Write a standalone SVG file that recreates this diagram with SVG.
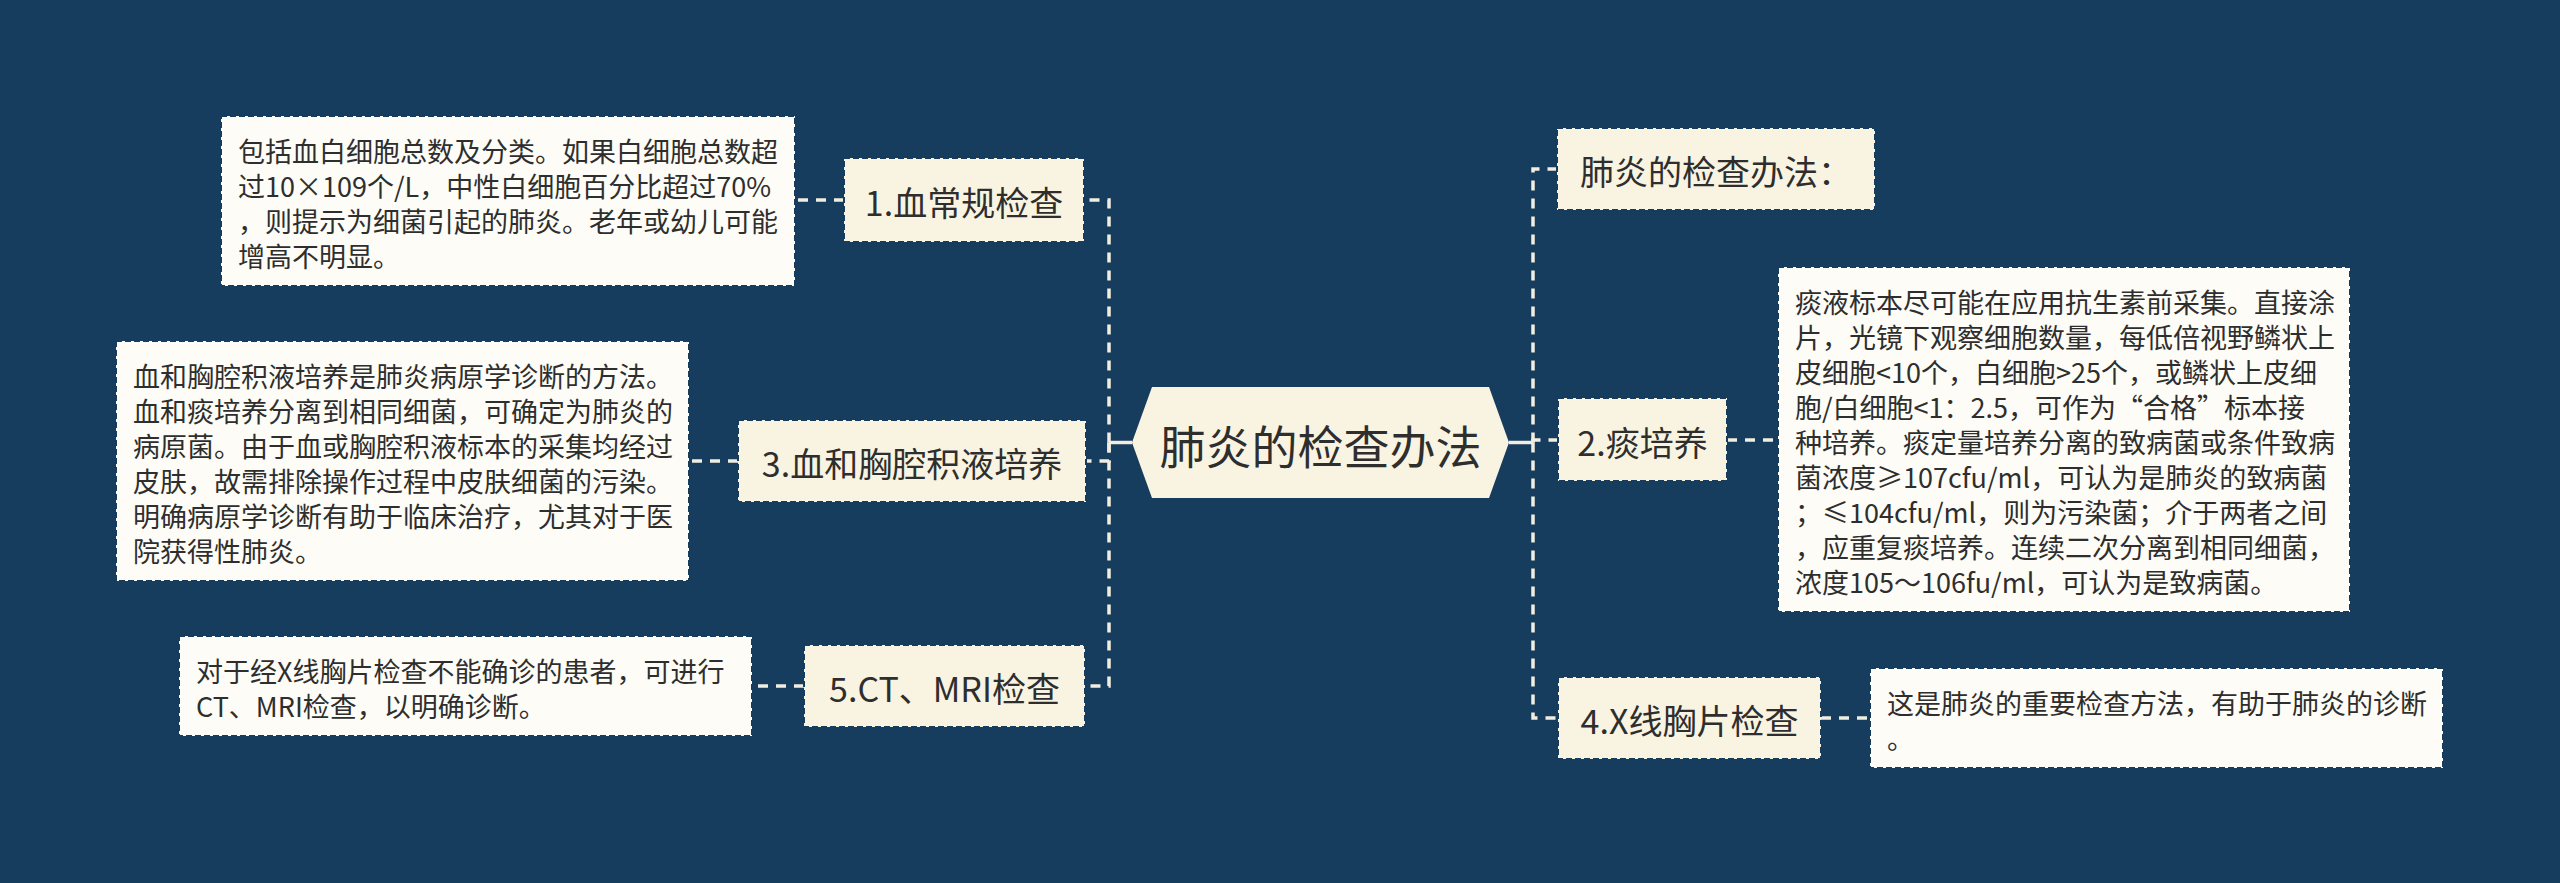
<svg xmlns="http://www.w3.org/2000/svg" width="2560" height="883" viewBox="0 0 2560 883">
<style>
.bg{fill:#173d5e}
.node{fill:#f9f4e1;stroke:#173d5e;stroke-width:2;stroke-dasharray:6 3}
.detail{fill:#fdfcf6;stroke:#173d5e;stroke-width:2;stroke-dasharray:6 3}
.center{fill:#f9f4e1}
.ntext{font-family:"Noto Sans CJK SC","Noto Sans",sans-serif;font-size:34px;fill:#2e2e2e;text-anchor:middle;dominant-baseline:central}
.dtext{font-family:"Noto Sans CJK SC","Noto Sans",sans-serif;font-size:27px;fill:#2e2e2e;dominant-baseline:central}
.ctext{font-family:"Noto Sans CJK SC","Noto Sans",sans-serif;font-size:46px;fill:#2e2e2e;text-anchor:middle;dominant-baseline:central}
.dash{fill:none;stroke:#f1ede0;stroke-width:3.5;stroke-dasharray:10 8}
.solid{fill:none;stroke:#f1ede0;stroke-width:3.5}
</style>
<rect class="bg" x="0" y="0" width="2560" height="883"/>
<g id="connectors">
<path class="solid" d="M1132 442.5 H1109"/>
<path class="dash" d="M1109 442.5 V200 H1084"/>
<path class="dash" d="M1109 442.5 V461 H1086"/>
<path class="dash" d="M1109 442.5 V686 H1085"/>
<path class="solid" d="M1509 442.5 H1533"/>
<path class="dash" d="M1533 442.5 V169 H1557"/>
<path class="dash" d="M1533 442.5 V440 H1558"/>
<path class="dash" d="M1533 442.5 V718 H1558"/>
<path class="dash" d="M844 200 H795"/>
<path class="dash" d="M738 461 H689"/>
<path class="dash" d="M804 686 H752"/>
<path class="dash" d="M1727 440 H1778"/>
<path class="dash" d="M1821 718 H1870"/>
</g>
<g id="root">
<polygon class="center" points="1132,442.5 1152,387 1489,387 1509,442.5 1489,498 1152,498"/>
<text class="ctext" x="1320.5" y="444">肺炎的检查办法</text>
</g>
<g id="n1">
<rect class="node" x="844" y="158" width="240" height="84"/>
<text class="ntext" x="964" y="201">1.血常规检查</text>
</g>
<g id="d1">
<rect class="detail" x="221" y="116" width="574" height="170"/>
<text class="dtext" x="238" y="150.5">包括血白细胞总数及分类。如果白细胞总数超</text>
<text class="dtext" x="238" y="185.5">过10×109个/L，中性白细胞百分比超过70%</text>
<text class="dtext" x="238" y="220.5">，则提示为细菌引起的肺炎。老年或幼儿可能</text>
<text class="dtext" x="238" y="255.5">增高不明显。</text>
</g>
<g id="n3">
<rect class="node" x="738" y="420" width="348" height="82"/>
<text class="ntext" x="912" y="462">3.血和胸腔积液培养</text>
</g>
<g id="d3">
<rect class="detail" x="116" y="341" width="573" height="240"/>
<text class="dtext" x="133" y="375.5">血和胸腔积液培养是肺炎病原学诊断的方法。</text>
<text class="dtext" x="133" y="410.5">血和痰培养分离到相同细菌，可确定为肺炎的</text>
<text class="dtext" x="133" y="445.5">病原菌。由于血或胸腔积液标本的采集均经过</text>
<text class="dtext" x="133" y="480.5">皮肤，故需排除操作过程中皮肤细菌的污染。</text>
<text class="dtext" x="133" y="515.5">明确病原学诊断有助于临床治疗，尤其对于医</text>
<text class="dtext" x="133" y="550.5">院获得性肺炎。</text>
</g>
<g id="n5">
<rect class="node" x="804" y="645" width="281" height="82"/>
<text class="ntext" x="944.5" y="687">5.CT、MRI检查</text>
</g>
<g id="d5">
<rect class="detail" x="179" y="636" width="573" height="100"/>
<text class="dtext" x="196" y="670.5">对于经X线胸片检查不能确诊的患者，可进行</text>
<text class="dtext" x="196" y="705.5">CT、MRI检查，以明确诊断。</text>
</g>
<g id="n0">
<rect class="node" x="1557" y="128" width="318" height="82"/>
<text class="ntext" x="1716" y="170">肺炎的检查办法：</text>
</g>
<g id="n2">
<rect class="node" x="1558" y="398" width="169" height="83"/>
<text class="ntext" x="1642.5" y="441">2.痰培养</text>
</g>
<g id="d2">
<rect class="detail" x="1778" y="267" width="572" height="345"/>
<text class="dtext" x="1795" y="301.5">痰液标本尽可能在应用抗生素前采集。直接涂</text>
<text class="dtext" x="1795" y="336.5">片，光镜下观察细胞数量，每低倍视野鳞状上</text>
<text class="dtext" x="1795" y="371.5">皮细胞&lt;10个，白细胞&gt;25个，或鳞状上皮细</text>
<text class="dtext" x="1795" y="406.5">胞/白细胞&lt;1：2.5，可作为“合格”标本接</text>
<text class="dtext" x="1795" y="441.5">种培养。痰定量培养分离的致病菌或条件致病</text>
<text class="dtext" x="1795" y="476.5">菌浓度≥107cfu/ml，可认为是肺炎的致病菌</text>
<text class="dtext" x="1795" y="511.5">；≤104cfu/ml，则为污染菌；介于两者之间</text>
<text class="dtext" x="1795" y="546.5">，应重复痰培养。连续二次分离到相同细菌，</text>
<text class="dtext" x="1795" y="581.5">浓度105～106fu/ml，可认为是致病菌。</text>
</g>
<g id="n4">
<rect class="node" x="1558" y="677" width="263" height="82"/>
<text class="ntext" x="1689.5" y="719">4.X线胸片检查</text>
</g>
<g id="d4">
<rect class="detail" x="1870" y="668" width="573" height="100"/>
<text class="dtext" x="1887" y="702.5">这是肺炎的重要检查方法，有助于肺炎的诊断</text>
<text class="dtext" x="1887" y="737.5">。</text>
</g>
</svg>
